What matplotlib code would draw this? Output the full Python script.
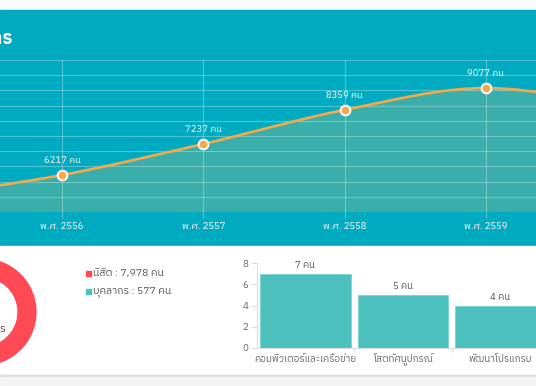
import numpy as np
import matplotlib
matplotlib.use("Agg")
import matplotlib.pyplot as plt
from matplotlib import font_manager
from matplotlib.ft2font import FT2Font
from matplotlib.patches import Rectangle, PathPatch
from matplotlib.path import Path

# --- data ---
years = ["พ.ศ. 2555", "พ.ศ. 2556", "พ.ศ. 2557", "พ.ศ. 2558", "พ.ศ. 2559", "พ.ศ. 2560"]
users = [5500, 6217, 7237, 8359, 9077, 8460]

pie_labels = ["นิสิต", "บุคลากร"]
pie_values = [7978, 577]

bar_labels = ["คอมพิวเตอร์และเครือข่าย", "โสตทัศนูปกรณ์", "พัฒนาโปรแกรม"]
bar_values = [7, 5, 4]

TEAL = "#00ABC1"
FILL = "#3AAEAA"
ORANGE = "#F7A84B"
RED = "#FF4A55"
GREEN = "#4BC0BD"


def thai_font():
    found = []
    for f in font_manager.fontManager.ttflist:
        try:
            if 0x0E01 in FT2Font(f.fname).get_charmap():
                found.append(f.name)
        except Exception:
            pass
    found = sorted(set(found), key=lambda n: ("Sans" not in n, n))
    return found[0] if found else "DejaVu Sans"


plt.rcParams["font.family"] = [thai_font(), "DejaVu Sans"]

W, H = 536, 386
fig = plt.figure(figsize=(W / 100, H / 100), dpi=100)


def px_axes(left, top, width, height, **kw):
    return fig.add_axes([left / W, (H - top - height) / H, width / W, height / H], **kw)


# background panels
bg = fig.add_axes([0, 0, 1, 1], zorder=0)
bg.set_xlim(0, W)
bg.set_ylim(H, 0)
bg.axis("off")
bg.add_patch(Rectangle((0, 0), W, 10, color="#FAFAFA"))
bg.add_patch(Rectangle((0, 10), W, 236, color=TEAL))
bg.add_patch(Rectangle((0, 246), W, 129, color="white"))
bg.add_patch(Rectangle((0, 375), W, 2, color="#DCDCDC"))
bg.add_patch(Rectangle((0, 377), W, 9, color="#F4F4F4"))
bg.text(13, 38, "สถิติผู้ใช้บริการ", ha="right", va="center", color="white",
        fontsize=13.5, fontweight="bold")

# --- line chart ---
ax = px_axes(0, 60, W, 152, zorder=1)
ax.set_facecolor("none")
x = np.arange(len(users))
y = np.array(users, dtype=float)

# tangents (flat at local extremes), cubic bezier through the points
m = np.zeros(len(y))
m[0] = y[1] - y[0]
m[-1] = y[-1] - y[-2]
for i in range(1, len(y) - 1):
    if (y[i] - y[i - 1]) * (y[i + 1] - y[i]) <= 0:
        m[i] = 0
    else:
        m[i] = (y[i + 1] - y[i - 1]) / 2
verts = [(x[0], y[0])]
codes = [Path.MOVETO]
for i in range(len(y) - 1):
    verts += [(x[i] + 1 / 3, y[i] + m[i] / 3),
              (x[i + 1] - 1 / 3, y[i + 1] - m[i + 1] / 3),
              (x[i + 1], y[i + 1])]
    codes += [Path.CURVE4] * 3
fill_verts = verts + [(x[-1], 5000), (x[0], 5000), (x[0], y[0])]
fill_codes = codes + [Path.LINETO, Path.LINETO, Path.CLOSEPOLY]
ax.add_patch(PathPatch(Path(fill_verts, fill_codes), facecolor=FILL, edgecolor="none", zorder=1))
ax.add_patch(PathPatch(Path(verts, codes), facecolor="none", edgecolor=ORANGE, lw=1.9, zorder=3))
ax.plot(x, y, "o", ms=7, mfc=ORANGE, mec="white", mew=1.4, zorder=4)
for xi, yi in zip(x, users):
    ax.annotate(f"{yi} คน", (xi, yi), xytext=(0, 7), textcoords="offset points",
                ha="center", va="bottom", color="white", fontsize=6.8, zorder=5)

ax.set_yticks(np.arange(5000, 10001, 500))
ax.set_xticks(x)
ax.set_xticklabels(years, color="white", fontsize=6.8)
ax.set_xlim(1 - 62 / 141.3, 1 + 474 / 141.3)
ax.set_ylim(5000, 10000)
ax.tick_params(axis="x", length=4, color=(1, 1, 1, 0.35), pad=3)
ax.tick_params(axis="y", left=False, labelleft=False)
ax.grid(True, color="white", alpha=0.3, lw=0.8, zorder=2)
ax.set_axisbelow(False)
for s in ax.spines.values():
    s.set_visible(False)

# --- donut ---
axd = px_axes(-17 - 54, 312 - 54, 108, 108, zorder=1)
axd.pie(pie_values, colors=[RED, GREEN], startangle=90, counterclock=False,
        radius=1, wedgeprops=dict(width=20 / 54, edgecolor="white", linewidth=0.5))
axd.set_xlim(-1, 1)
axd.set_ylim(-1, 1)
axd.axis("off")
bg.text(6, 330, "นิสิตและบุคลากร", ha="right", va="center", color="#444444", fontsize=8)

# legend
for k, (lab, val, col) in enumerate(zip(pie_labels, pie_values, [RED, GREEN])):
    yy = 273.5 + k * 18
    bg.add_patch(Rectangle((85.5, yy - 2.5), 5, 5, color=col))
    bg.text(93, yy, f"{lab} : {val:,} คน", ha="left", va="center", color="#555555", fontsize=7.5)

# --- bar chart ---
axb = px_axes(256.7, 263.3, W - 256.7, 84.4, zorder=1)
bx = np.arange(len(bar_values))
axb.bar(bx, bar_values, width=0.925, color=GREEN, edgecolor="#7AD3D0", lw=0.6)
for xi, v in zip(bx, bar_values):
    axb.text(xi, v + 0.35, f"{v} คน", ha="center", va="bottom", color="#555555", fontsize=7)
    axb.annotate(bar_labels[xi], (xi, 0), xycoords=("data", "axes fraction"),
                 xytext=(0, -10), textcoords="offset points", ha="center", va="baseline",
                 color="#666666", fontsize=7, annotation_clip=False)
axb.set_yticks([0, 2, 4, 6, 8])
axb.set_xticks(bx[:-1] + 0.5)
axb.set_xticklabels([])
axb.set_xlim(-0.5, (W - 256.7) / 97.5 - 0.5)
axb.set_ylim(0, 8)
axb.tick_params(axis="x", length=3, color="#DDDDDD")
axb.tick_params(axis="y", length=4, color="#DDDDDD", labelcolor="#666666", labelsize=7, pad=2)
axb.set_facecolor("none")
for s in ["top", "right"]:
    axb.spines[s].set_visible(False)
axb.spines["left"].set_color("#DDDDDD")
axb.spines["bottom"].set_color("#DDDDDD")

fig.savefig("out.png", dpi=100)
